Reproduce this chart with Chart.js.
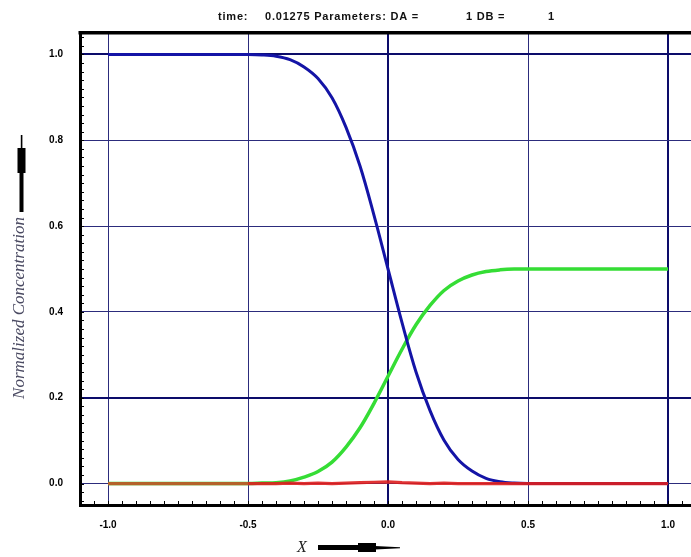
<!DOCTYPE html>
<html>
<head>
<meta charset="utf-8">
<script src="https://cdn.jsdelivr.net/npm/chart.js@4.4.1/dist/chart.umd.min.js"></script>
<style>
  html, body { margin: 0; padding: 0; background: #fff; overflow: hidden; }
  canvas { display: block; }
</style>
</head>
<body>
<canvas id="diffusionChart" width="691" height="557"></canvas>
<script>
// Profile data
const xValues = [-1.0, -0.9, -0.8, -0.7, -0.6, -0.5, -0.45, -0.4, -0.35, -0.3, -0.25, -0.2, -0.15, -0.1, -0.05,
  0, 0.05, 0.1, 0.15, 0.2, 0.25, 0.3, 0.35, 0.4, 0.45, 0.5, 0.6, 0.7, 0.8, 0.9, 1.0];
const blueValues = [1, 1, 1, 1, 1, 1, 0.999, 0.996, 0.988, 0.971, 0.944, 0.899, 0.83, 0.74, 0.625,
  0.50, 0.375, 0.26, 0.17, 0.101, 0.056, 0.029, 0.012, 0.004, 0.001, 0, 0, 0, 0, 0, 0];
const greenValues = [0, 0, 0, 0, 0, 0, 0.001, 0.002, 0.006, 0.015, 0.028, 0.05, 0.085, 0.13, 0.187,
  0.25, 0.313, 0.37, 0.415, 0.45, 0.472, 0.486, 0.494, 0.498, 0.5, 0.5, 0.5, 0.5, 0.5, 0.5, 0.5];
const redValues = [0, 0, 0, 0, 0, 0, 0, 0, 0.001, 0, 0.001, 0, 0.001, 0.002, 0.003,
  0.004, 0.002, 0.001, 0, 0.001, 0, 0, 0, 0, 0, 0, 0, 0, 0, 0, 0];
const xTicks = [-1.0, -0.5, 0.0, 0.5, 1.0];
const yTicks = [0.0, 0.2, 0.4, 0.6, 0.8, 1.0];

const headerTexts = [
  { text: 'time:', x: 218 },
  { text: '0.01275 Parameters: DA =', x: 265 },
  { text: '1 DB =', x: 466 },
  { text: '1', x: 548 }
];

function toPoints(values) {
  return xValues.map((x, i) => ({ x: x, y: values[i] }));
}

// grid lines: a few of them are drawn heavier
const heavyX = [0, 1];
const heavyY = [0.2, 1];

function isHeavy(list, v) {
  return list.some(h => Math.abs(h - v) < 1e-6);
}

// Extra decoration: header, top frame, inner ticks, axis titles with arrows
const decorations = {
  id: 'decorations',
  afterDraw(chart) {
    const ctx = chart.ctx;
    const area = chart.chartArea;
    const xs = chart.scales.x;
    const ys = chart.scales.y;

    ctx.save();

    // header
    ctx.fillStyle = '#111';
    ctx.font = 'bold 11px "Liberation Sans", Arial, sans-serif';
    ctx.letterSpacing = '0.8px';
    ctx.textBaseline = 'alphabetic';
    headerTexts.forEach(h => ctx.fillText(h.text, h.x, 20));
    ctx.letterSpacing = '0px';

    // top frame
    ctx.fillStyle = '#000';
    ctx.fillRect(area.left - 1.5, area.top - 2, area.right - area.left + 2, 3.5);

    // inner minor ticks
    ctx.strokeStyle = '#000';
    ctx.lineWidth = 1;
    ctx.beginPath();
    for (let i = -22; i * 0.05 <= xs.max + 1e-9; i++) {
      const px = Math.round(xs.getPixelForValue(i * 0.05)) + 0.5;
      ctx.moveTo(px, area.bottom);
      ctx.lineTo(px, area.bottom - 4);
    }
    for (let i = -2; i * 0.02 <= ys.max + 1e-9; i++) {
      const py = Math.round(ys.getPixelForValue(i * 0.02)) + 0.5;
      ctx.moveTo(area.left, py);
      ctx.lineTo(area.left + 4, py);
    }
    ctx.stroke();

    // y title
    ctx.save();
    ctx.translate(20, 308);
    ctx.rotate(-Math.PI / 2);
    ctx.fillStyle = '#4a4a62';
    ctx.font = 'italic 17px "Liberation Serif", "Times New Roman", serif';
    ctx.textAlign = 'center';
    ctx.textBaseline = 'middle';
    ctx.fillText('Normalized Concentration', 0, 0);
    ctx.restore();

    // y arrow
    ctx.fillStyle = '#000';
    ctx.fillRect(19.5, 172, 4, 40);
    ctx.fillRect(17.5, 148, 8, 25);
    ctx.fillRect(20.8, 135, 1.6, 14);

    // x title
    ctx.fillStyle = '#222';
    ctx.font = 'italic 16px "Liberation Serif", "Times New Roman", serif';
    ctx.textAlign = 'center';
    ctx.textBaseline = 'middle';
    ctx.fillText('X', 302, 548);

    // x arrow
    ctx.fillStyle = '#000';
    ctx.fillRect(318, 545, 41, 5);
    ctx.fillRect(358, 543, 18, 9);
    ctx.beginPath();
    ctx.moveTo(375, 546);
    ctx.lineTo(400, 547.2);
    ctx.lineTo(400, 548.2);
    ctx.lineTo(375, 549.5);
    ctx.closePath();
    ctx.fill();

    ctx.restore();
  }
};

const axisFont = { family: '"Liberation Sans", Arial, sans-serif', size: 10, weight: 'bold' };

new Chart(document.getElementById('diffusionChart'), {
  type: 'line',
  data: {
    datasets: [
      {
        label: 'red',
        data: toPoints(redValues),
        borderColor: 'rgba(222, 30, 30, 0.9)',
        borderWidth: 3.2,
        pointRadius: 0,
        tension: 0,
        order: 1,
        segment: {
          borderColor: c => c.p0.parsed.x < -0.55 ? '#b4622a' : undefined
        }
      },
      {
        label: 'blue',
        data: toPoints(blueValues),
        borderColor: '#1414a6',
        borderWidth: 3,
        pointRadius: 0,
        tension: 0.35,
        order: 2
      },
      {
        label: 'green',
        data: toPoints(greenValues),
        borderColor: '#35dd35',
        borderWidth: 3.5,
        pointRadius: 0,
        tension: 0.35,
        order: 3
      }
    ]
  },
  options: {
    responsive: false,
    animation: false,
    devicePixelRatio: 1,
    layout: { padding: { top: 33, left: 0, right: 0, bottom: 0 } },
    plugins: {
      legend: { display: false },
      title: { display: false },
      tooltip: { enabled: false }
    },
    scales: {
      x: {
        type: 'linear',
        min: -1.1,
        max: 1.082,
        afterBuildTicks: scale => { scale.ticks = xTicks.map(v => ({ value: v })); },
        afterFit: scale => { scale.height = 52; },
        ticks: {
          autoSkip: false,
          maxRotation: 0,
          padding: 14,
          color: '#000',
          font: axisFont,
          callback: v => v.toFixed(1)
        },
        grid: {
          drawTicks: false,
          color: c => isHeavy(heavyX, c.tick.value) ? '#0c0c6a' : '#2c2c7c',
          lineWidth: c => isHeavy(heavyX, c.tick.value) ? 2 : 1
        },
        border: { color: '#000', width: 3 }
      },
      y: {
        type: 'linear',
        min: -0.05,
        max: 1.05,
        afterBuildTicks: scale => { scale.ticks = yTicks.map(v => ({ value: v })); },
        afterFit: scale => { scale.width = 80; },
        ticks: {
          padding: 17,
          color: '#000',
          font: axisFont,
          callback: v => v.toFixed(1)
        },
        grid: {
          drawTicks: false,
          color: c => isHeavy(heavyY, c.tick.value) ? '#0c0c6a' : '#2c2c7c',
          lineWidth: c => isHeavy(heavyY, c.tick.value) ? 2 : 1
        },
        border: { color: '#000', width: 3 }
      }
    }
  },
  plugins: [decorations]
});
</script>
</body>
</html>
